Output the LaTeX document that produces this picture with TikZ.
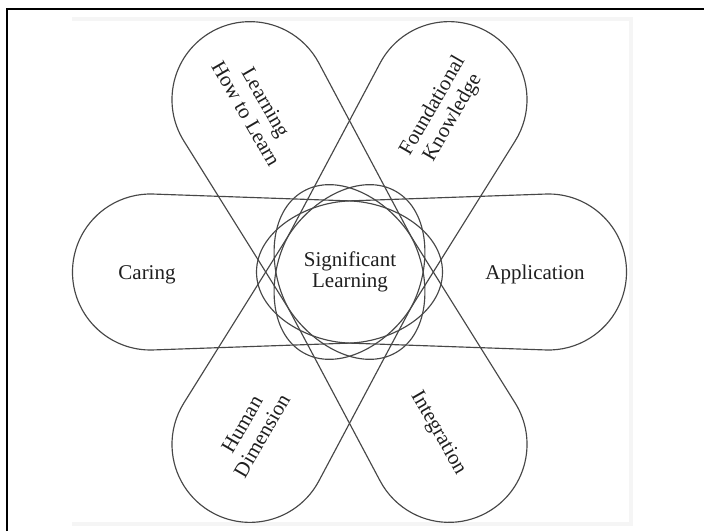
\documentclass[tikz,border=0pt]{standalone}
\usepackage{fontspec}
\setmainfont{Liberation Serif}
\begin{document}
\begin{tikzpicture}[x=1pt,y=1pt,
  petal/.style={draw=black!72, line width=1.15pt},
  lbl/.style={font=\fontsize{21}{23}\selectfont, text=black!88, align=center, inner sep=0pt}]
\useasboundingbox (0,0) rectangle (704,531);
\fill[white] (0,0) rectangle (704,531);
\draw[black!4, line width=4pt] (72,512) -- (631,512) -- (631,7) -- (72,7);
\draw[black, line width=2pt] (6.7,0) -- (6.7,521.5) -- (704,521.5);
\foreach \t in {0,60,...,300}{
  \draw[petal, shift={(349.5,259)}, rotate=\t]
    (196.3,77.95) arc[start angle=92, end angle=-92, radius=78]
    -- (0,-71.1) .. controls (-45,-69.5) and (-93,-40) .. (-93,0)
    .. controls (-93,40) and (-45,69.5) .. (0,71.1) -- cycle;
}
\node[lbl, font=\fontsize{21}{21}\selectfont] (sig) at (350,259) {Significant\\Learning};
\node[lbl] (caring) at (147,256) {Caring};
\node[lbl] (app) at (535,257) {Application};
\node[lbl, rotate=-60] (learn) at (256,423) {Learning\\How to Learn};
\node[lbl, rotate=60] (found) at (443,419) {Foundational\\Knowledge};
\node[lbl, rotate=60] (human) at (252,101) {Human\\Dimension};
\node[lbl, rotate=-60] (integ) at (438,98) {Integration};
\end{tikzpicture}
\end{document}
